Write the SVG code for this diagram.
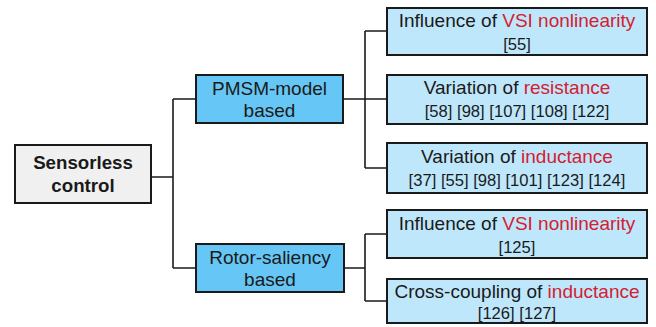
<svg xmlns="http://www.w3.org/2000/svg" width="656" height="327" viewBox="0 0 656 327">
<style>
.box{stroke:#1a1a1a;stroke-width:2}
.root{fill:#f0f0f0}
.mid{fill:#66c6f5}
.leaf{fill:#bfe7fb}
.t{font-family:"Liberation Sans",Arial,sans-serif;text-anchor:middle;fill:#1a1a1a}
.tb{font-size:18.7px;font-weight:bold}
.tm{font-size:19px}
.tl{font-size:19px}
.tr{font-size:16.6px}
.red{fill:#d42030}
.c{stroke:#1a1a1a;stroke-width:1.6;fill:none}
</style>
<rect width="656" height="327" fill="#ffffff"/>
<g id="connectors">
<path class="c" d="M151 177H173M173 99V268M173 99H196M173 268H196"/>
<path class="c" d="M343 99H365M365 31V168M365 31H387M365 99H387M365 168H387"/>
<path class="c" d="M344 268H365M365 234V301M365 234H387M365 301H387"/>
</g>
<g id="root">
<rect class="box root" x="15" y="145" width="136" height="58"/>
<text class="t tb" x="83" y="169">Sensorless</text>
<text class="t tb" x="83" y="192">control</text>
</g>
<g id="pmsm">
<rect class="box mid" x="196" y="75" width="147" height="48"/>
<text class="t tm" x="269.5" y="95">PMSM-model</text>
<text class="t tm" x="269.5" y="117">based</text>
</g>
<g id="rotor">
<rect class="box mid" x="196" y="244" width="148" height="48"/>
<text class="t tm" x="270" y="264">Rotor-saliency</text>
<text class="t tm" x="270" y="286">based</text>
</g>
<g id="leaf1">
<rect class="box leaf" x="387" y="8" width="260" height="47"/>
<text class="t tl" x="517" y="27">Influence of <tspan class="red">VSI nonlinearity</tspan></text>
<text class="t tr" x="517" y="50">[55]</text>
</g>
<g id="leaf2">
<rect class="box leaf" x="387" y="75" width="260" height="49"/>
<text class="t tl" x="517" y="94">Variation of <tspan class="red">resistance</tspan></text>
<text class="t tr" x="517" y="117">[58] [98] [107] [108] [122]</text>
</g>
<g id="leaf3">
<rect class="box leaf" x="387" y="143" width="260" height="50"/>
<text class="t tl" x="517" y="163">Variation of <tspan class="red">inductance</tspan></text>
<text class="t tr" x="517" y="186">[37] [55] [98] [101] [123] [124]</text>
</g>
<g id="leaf4">
<rect class="box leaf" x="387" y="210" width="260" height="48"/>
<text class="t tl" x="517" y="230">Influence of <tspan class="red">VSI nonlinearity</tspan></text>
<text class="t tr" x="517" y="253">[125]</text>
</g>
<g id="leaf5">
<rect class="box leaf" x="387" y="279" width="260" height="44"/>
<text class="t tl" x="517" y="298">Cross-coupling of <tspan class="red">inductance</tspan></text>
<text class="t tr" x="517" y="319">[126] [127]</text>
</g>
</svg>
